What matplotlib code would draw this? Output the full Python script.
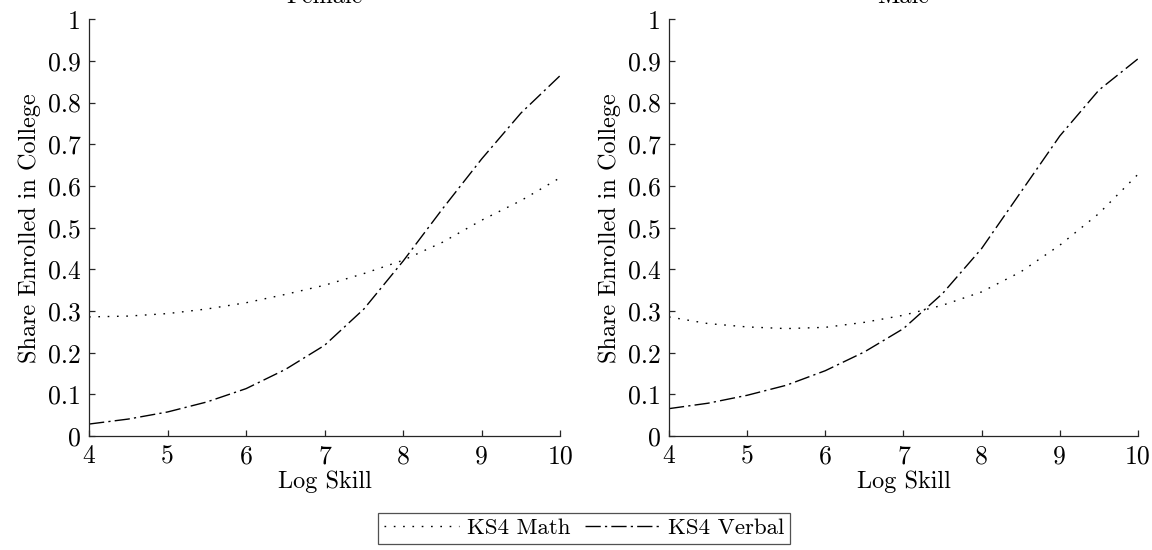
import matplotlib
matplotlib.use("Agg")
import matplotlib.pyplot as plt

# Log skill grid
log_skill = [4.0, 4.5, 5.0, 5.5, 6.0, 6.5, 7.0, 7.5, 8.0, 8.5, 9.0, 9.5, 10.0]

female_math = [0.286, 0.288, 0.294, 0.305, 0.320, 0.340, 0.362, 0.390, 0.422, 0.465, 0.518, 0.565, 0.620]
female_verbal = [0.029, 0.041, 0.058, 0.082, 0.114, 0.160, 0.218, 0.305, 0.420, 0.545, 0.665, 0.775, 0.865]

male_math = [0.286, 0.270, 0.262, 0.258, 0.261, 0.273, 0.290, 0.314, 0.346, 0.394, 0.458, 0.534, 0.628]
male_verbal = [0.066, 0.079, 0.098, 0.122, 0.157, 0.202, 0.258, 0.342, 0.450, 0.585, 0.720, 0.830, 0.905]

panels = ["Female", "Male"]
series_names = ["KS4 Math", "KS4 Verbal"]

plt.rcParams['font.family'] = ['cmr10', 'DejaVu Serif']
plt.rcParams['axes.formatter.use_mathtext'] = True
plt.rcParams['lines.scale_dashes'] = False
axis_col = '#262626'
fs = 17.5

fig = plt.figure(figsize=(11.52, 5.5), dpi=100)
ax1 = fig.add_axes([0.0773, 0.207, 0.409, 0.758])
ax2 = fig.add_axes([0.5807, 0.207, 0.4071, 0.758])

datos = [(female_math, female_verbal), (male_math, male_verbal)]
lineas = []
for ax, titulo, (math, verbal) in zip([ax1, ax2], panels, datos):
    l1, = ax.plot(log_skill, math, color='black', lw=1.0, linestyle=(0, (1.2, 5.5)))
    l2, = ax.plot(log_skill, verbal, color='black', lw=1.0, linestyle=(0, (11, 3, 1.6, 3)))
    lineas = [l1, l2]
    ax.set_xlim(4, 10)
    ax.set_ylim(0, 1)
    ax.set_xticks(range(4, 11))
    ax.set_xticklabels([str(v) for v in range(4, 11)])
    ax.set_yticks([i / 10 for i in range(11)])
    ax.set_yticklabels(['0'] + [f'0.{i}' for i in range(1, 10)] + ['1'])
    for s in ['top', 'right']:
        ax.spines[s].set_visible(False)
    for s in ['left', 'bottom']:
        ax.spines[s].set_color(axis_col)
        ax.spines[s].set_linewidth(0.9)
    ax.tick_params(direction='in', length=4, width=0.9, color=axis_col,
                   labelsize=18.5, labelcolor='black', pad=6)
    ax.set_xlabel('Log Skill', fontsize=fs, labelpad=2)
    ax.set_ylabel('Share Enrolled in College', fontsize=fs, labelpad=5)
    ax.set_title(titulo, fontsize=fs, pad=11.5)

leg = fig.legend(lineas, series_names, loc='upper center', ncol=2,
                 bbox_to_anchor=(0.507, 0.068), fontsize=16.5, frameon=True,
                 fancybox=False, handlelength=3.3, handletextpad=0.35,
                 columnspacing=0.6, borderpad=0.25, borderaxespad=0)
leg.get_frame().set_edgecolor(axis_col)
leg.get_frame().set_linewidth(0.9)

fig.savefig('out.png', dpi=100)
